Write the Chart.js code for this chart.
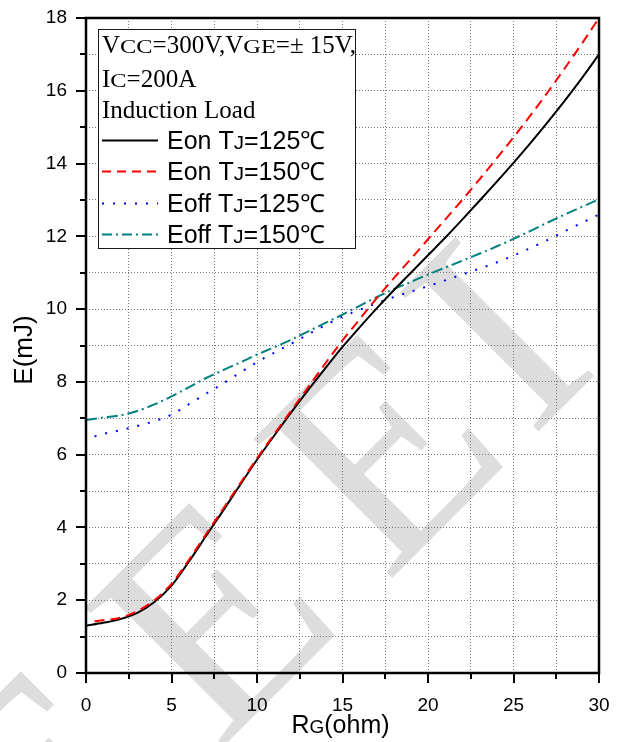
<!DOCTYPE html>
<html>
<head>
<meta charset="utf-8">
<script src="https://cdn.jsdelivr.net/npm/chart.js@4.4.0/dist/chart.umd.min.js"></script>
<style>
  html, body { margin: 0; padding: 0; background: #ffffff; }
  canvas { display: block; }
</style>
</head>
<body>
<canvas id="myChart" width="623" height="742"></canvas>
<script>
// gate resistance (ohm)
const rgFull = [0, 1, 2, 3, 4, 5, 6, 7, 8, 9, 10, 11, 12, 13, 14, 15, 16, 17, 18, 19, 20, 21, 22, 23, 24, 25, 26, 27, 28, 29, 30];
const rgHalf = [0.5, 1, 2, 3, 4, 5, 6, 7, 8, 9, 10, 11, 12, 13, 14, 15, 16, 17, 18, 19, 20, 21, 22, 23, 24, 25, 26, 27, 28, 29, 30];

// switching energy (mJ)
const eon125 = [1.3, 1.38, 1.48, 1.65, 1.95, 2.4, 3.05, 3.75, 4.45, 5.16, 5.86, 6.52, 7.16, 7.78, 8.38, 8.96, 9.5, 10.02, 10.52, 11.0, 11.48, 11.96, 12.46, 12.97, 13.49, 14.02, 14.57, 15.14, 15.73, 16.35, 17.0];
const eon150 = [1.42, 1.45, 1.52, 1.7, 2.0, 2.45, 3.1, 3.8, 4.5, 5.2, 5.9, 6.56, 7.21, 7.86, 8.51, 9.14, 9.72, 10.3, 10.85, 11.38, 11.92, 12.46, 13.0, 13.56, 14.13, 14.72, 15.33, 15.96, 16.62, 17.3, 18.0];
const eoff125 = [6.5, 6.57, 6.67, 6.79, 6.92, 7.1, 7.38, 7.67, 7.95, 8.25, 8.54, 8.8, 9.05, 9.31, 9.56, 9.79, 9.98, 10.16, 10.33, 10.48, 10.63, 10.79, 10.95, 11.11, 11.28, 11.47, 11.68, 11.9, 12.14, 12.37, 12.6];
const eoff150 = [6.95, 7.02, 7.08, 7.2, 7.38, 7.6, 7.85, 8.1, 8.32, 8.53, 8.75, 8.95, 9.16, 9.39, 9.62, 9.85, 10.09, 10.33, 10.55, 10.75, 10.95, 11.14, 11.33, 11.52, 11.72, 11.93, 12.15, 12.38, 12.6, 12.81, 13.02];

// [text, size factor, width factor]
const conditionLines = [
    [["V", 1, 1], ["CC", 0.78, 1.25], ["=300V,", 1, 1], ["V", 1, 1], ["GE", 0.78, 1.25], ["=\u00b1 15V,", 1, 1]],
    [["I", 1, 1], ["C", 0.78, 1.25], ["=200A", 1, 1]],
    [["Induction Load", 1, 1]]
];
const legendItems = [
    { name: "Eon", temp: "=125\u2103", color: "#000000", dash: [] },
    { name: "Eon", temp: "=150\u2103", color: "#ff0000", dash: [9, 6] },
    { name: "Eoff", temp: "=125\u2103", color: "#0000ff", dash: [2, 9] },
    { name: "Eoff", temp: "=150\u2103", color: "#008080", dash: [10, 4, 2, 4] }
];
const watermarkLetters = ["E", "E", "E", "I"];

const SANS = "'Liberation Sans', Arial, sans-serif";
const SERIF = "'Liberation Serif', 'Times New Roman', serif";

function pairs(xs, ys) {
    return ys.map((y, i) => ({ x: xs[i], y: y }));
}

// text made of runs; subscript-like letters get a smaller, wider face
function drawRuns(ctx, runs, x, y, size, family) {
    for (const [txt, k, wk] of runs) {
        ctx.font = (size * k) + "px " + family;
        const w = ctx.measureText(txt).width * (wk || 1);
        ctx.save();
        ctx.translate(x, y);
        ctx.scale(wk || 1, 1);
        ctx.fillText(txt, 0, 0);
        ctx.restore();
        x += w;
    }
    return x;
}

function runsWidth(ctx, runs, size, family) {
    let w = 0;
    for (const [txt, k, wk] of runs) {
        ctx.font = (size * k) + "px " + family;
        w += ctx.measureText(txt).width * (wk || 1);
    }
    return w;
}

const watermark = {
    id: "watermark",
    beforeDraw(chart) {
        const ctx = chart.ctx;
        const offsets = [-616, -378, -140, 65];
        ctx.save();
        ctx.translate(485, 485);
        ctx.rotate(-Math.PI / 4);
        ctx.font = "300px " + SERIF;
        ctx.fillStyle = "#dddddd";
        ctx.textBaseline = "alphabetic";
        watermarkLetters.forEach((l, i) => ctx.fillText(l, offsets[i], 0));
        ctx.restore();
    }
};

const decorations = {
    id: "decorations",
    afterDraw(chart) {
        const ctx = chart.ctx;
        const area = chart.chartArea;
        const xs = chart.scales.x;
        const ys = chart.scales.y;

        ctx.save();
        ctx.strokeStyle = "#000000";
        ctx.lineWidth = 2;
        ctx.setLineDash([]);
        for (const t of xs.ticks) {
            const px = Math.round(xs.getPixelForValue(t.value));
            const len = t.value % 5 === 0 ? 10 : 6;
            ctx.beginPath();
            ctx.moveTo(px, area.bottom);
            ctx.lineTo(px, area.bottom + len);
            ctx.stroke();
        }
        for (const t of ys.ticks) {
            const py = Math.round(ys.getPixelForValue(t.value));
            const len = t.value % 2 === 0 ? 10 : 6;
            ctx.beginPath();
            ctx.moveTo(area.left - len, py);
            ctx.lineTo(area.left, py);
            ctx.stroke();
        }

        // plot frame
        ctx.lineWidth = 2.5;
        ctx.strokeRect(area.left, area.top, area.right - area.left, area.bottom - area.top);

        // axis titles
        ctx.fillStyle = "#000000";
        ctx.textBaseline = "alphabetic";
        ctx.textAlign = "left";
        const xTitle = [["R", 1, 1], ["G", 0.76, 1], ["(ohm)", 1, 1]];
        const w = runsWidth(ctx, xTitle, 25, SANS);
        drawRuns(ctx, xTitle, (area.left + area.right) / 2 - 2 - w / 2, 733, 25, SANS);

        ctx.save();
        ctx.translate(32, 350);
        ctx.rotate(-Math.PI / 2);
        ctx.font = "26px " + SANS;
        ctx.textAlign = "center";
        ctx.fillText("E(mJ)", 0, 0);
        ctx.restore();

        // legend box with test conditions
        ctx.fillStyle = "#ffffff";
        ctx.fillRect(98, 29, 258, 219);
        ctx.lineWidth = 1;
        ctx.strokeStyle = "#1a1a1a";
        ctx.strokeRect(98.5, 29.5, 257, 219);

        ctx.fillStyle = "#000000";
        const condBase = [53, 87, 118];
        conditionLines.forEach((runs, i) => drawRuns(ctx, runs, 102, condBase[i], 25, SERIF));

        const entryBase = [149, 180, 212, 243];
        legendItems.forEach((item, i) => {
            const yb = entryBase[i];
            ctx.strokeStyle = item.color;
            ctx.lineWidth = 2;
            ctx.setLineDash(item.dash);
            ctx.beginPath();
            ctx.moveTo(102, yb - 8.5);
            ctx.lineTo(158, yb - 8.5);
            ctx.stroke();
            ctx.setLineDash([]);
            ctx.fillStyle = "#000000";
            drawRuns(ctx, [[item.name + " T", 1, 1], ["J", 0.75, 1.1], [item.temp, 1, 1]], 167, yb, 25, SANS);
        });
        ctx.restore();
    }
};

const gridStyle = {
    color: "#777777",
    lineWidth: 1,
    drawTicks: false
};

const chart = new Chart("myChart", {
    type: "line",
    plugins: [watermark, decorations],
    data: {
        datasets: [
            {
                label: "Eon TJ=150\u2103",
                data: pairs(rgHalf, eon150),
                borderColor: "#ff0000",
                borderWidth: 2,
                borderDash: [10, 6]
            },
            {
                label: "Eon TJ=125\u2103",
                data: pairs(rgFull, eon125),
                borderColor: "#000000",
                borderWidth: 2
            },
            {
                label: "Eoff TJ=125\u2103",
                data: pairs(rgHalf, eoff125),
                borderColor: "#0000ff",
                borderWidth: 2,
                borderDash: [2, 9]
            },
            {
                label: "Eoff TJ=150\u2103",
                data: pairs(rgFull, eoff150),
                borderColor: "#008080",
                borderWidth: 2,
                borderDash: [11, 4, 2, 4]
            }
        ]
    },
    options: {
        responsive: false,
        devicePixelRatio: 1,
        animation: false,
        parsing: false,
        elements: {
            point: { radius: 0 },
            line: { cubicInterpolationMode: "monotone", fill: false }
        },
        layout: {
            padding: { top: 18, right: 24, left: 0, bottom: 0 }
        },
        plugins: {
            legend: { display: false },
            tooltip: { enabled: false }
        },
        scales: {
            x: {
                type: "linear",
                min: 0,
                max: 30,
                afterFit: (scale) => {
                    scale.height = 69;
                    scale.paddingLeft = 0;
                    scale.paddingRight = 0;
                },
                ticks: {
                    stepSize: 2.5,
                    autoSkip: false,
                    maxRotation: 0,
                    padding: 21,
                    color: "#000000",
                    font: { family: SANS, size: 19 },
                    callback: (v) => (v % 5 === 0 ? v : "")
                },
                grid: gridStyle,
                border: { display: false, dash: [1, 2] }
            },
            y: {
                type: "linear",
                min: 0,
                max: 18,
                afterFit: (scale) => {
                    scale.width = 86;
                    scale.paddingTop = 0;
                    scale.paddingBottom = 0;
                },
                ticks: {
                    stepSize: 1,
                    autoSkip: false,
                    padding: 19,
                    color: "#000000",
                    font: { family: SANS, size: 19 },
                    callback: (v) => (v % 2 === 0 ? v : "")
                },
                grid: gridStyle,
                border: { display: false, dash: [1, 2] }
            }
        }
    }
});
</script>
</body>
</html>
